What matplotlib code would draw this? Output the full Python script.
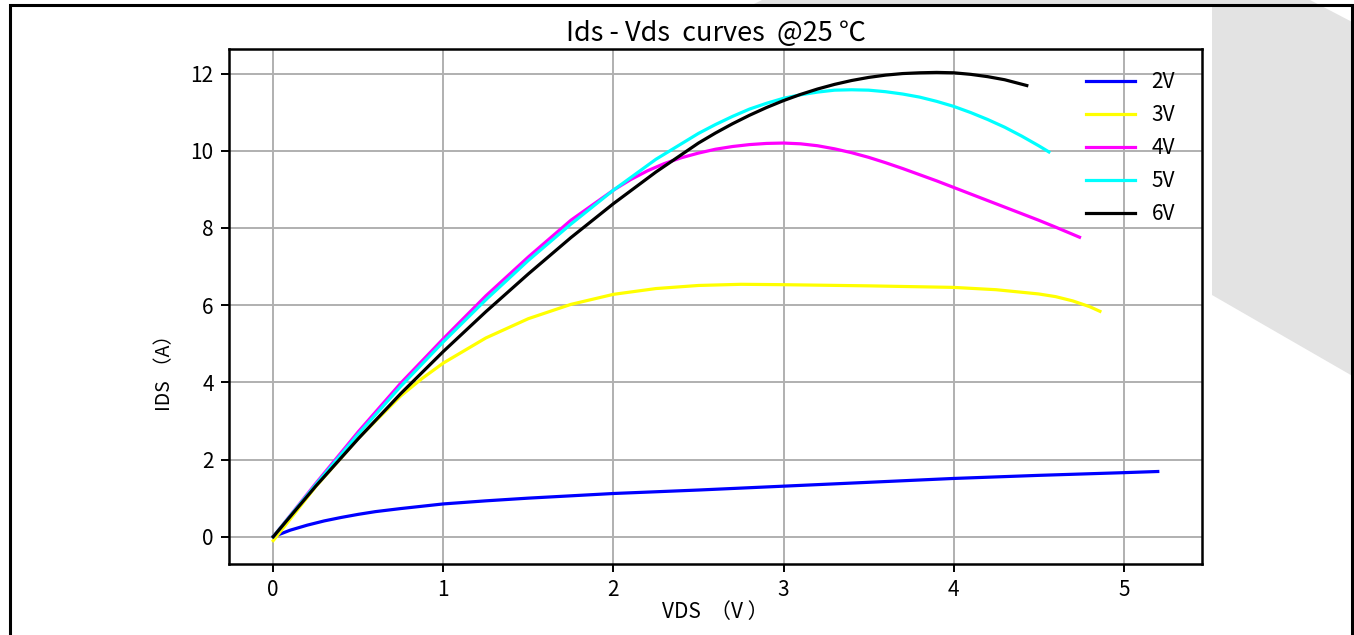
import matplotlib
matplotlib.use('Agg')
import matplotlib.pyplot as plt
from matplotlib.patches import Polygon, Rectangle

plt.rcParams['font.family'] = ['Noto Sans CJK SC', 'DejaVu Sans']
plt.rcParams['axes.unicode_minus'] = False

# ─── Data ───
VGS_LABELS = ['2V', '3V', '4V', '5V', '6V']
COLORS = ['blue', 'yellow', 'magenta', 'cyan', 'black']

vds_2v = [0, 0.1, 0.2, 0.3, 0.4, 0.5, 0.6, 0.75, 1.0, 1.25, 1.5, 2.0, 2.5, 3.0, 3.5, 4.0, 4.5, 5.0, 5.2]
ids_2v = [0, 0.17, 0.30, 0.41, 0.50, 0.58, 0.65, 0.73, 0.85, 0.93, 1.0, 1.12, 1.21, 1.31, 1.41, 1.51, 1.59, 1.66, 1.69]

vds_3v = [0, 0.25, 0.5, 0.75, 0.875, 1.0, 1.25, 1.5, 1.75, 2.0, 2.25, 2.5, 2.75, 3.0, 3.5, 4.0,
          4.25, 4.5, 4.6, 4.7, 4.8, 4.86]
ids_3v = [-0.1, 1.3, 2.55, 3.65, 4.1, 4.5, 5.15, 5.65, 6.02, 6.28, 6.43, 6.51, 6.54, 6.53, 6.5, 6.46,
          6.40, 6.29, 6.22, 6.11, 5.96, 5.84]

vds_4v = [0, 0.25, 0.5, 0.75, 1.0, 1.25, 1.5, 1.75, 2.0, 2.1, 2.2, 2.3, 2.4, 2.5, 2.6, 2.7, 2.8, 2.9,
          3.0, 3.1, 3.2, 3.3, 3.4, 3.5, 3.6, 3.7, 3.8, 3.9, 4.0, 4.1, 4.2, 4.3, 4.4, 4.5, 4.6, 4.74]
ids_4v = [0, 1.38, 2.72, 3.98, 5.13, 6.24, 7.25, 8.2, 8.98, 9.25, 9.48, 9.67, 9.82, 9.94, 10.04, 10.11,
          10.16, 10.19, 10.2, 10.18, 10.13, 10.05, 9.95, 9.83, 9.69, 9.54, 9.38, 9.22, 9.05, 8.88,
          8.71, 8.54, 8.37, 8.2, 8.02, 7.76]

vds_5v = [0, 0.25, 0.5, 0.75, 1.0, 1.25, 1.5, 1.75, 2.0, 2.25, 2.5, 2.6, 2.7, 2.8, 2.9, 3.0, 3.1,
          3.2, 3.3, 3.4, 3.5, 3.6, 3.7, 3.8, 3.9, 4.0, 4.1, 4.2, 4.3, 4.4, 4.5, 4.56]
ids_5v = [0, 1.35, 2.66, 3.9, 5.05, 6.14, 7.16, 8.1, 8.98, 9.78, 10.45, 10.68, 10.89, 11.08, 11.23,
          11.36, 11.45, 11.52, 11.57, 11.58, 11.57, 11.53, 11.47, 11.39, 11.28, 11.15, 10.99, 10.81,
          10.61, 10.38, 10.13, 9.97]

vds_6v = [0, 0.25, 0.5, 0.75, 1.0, 1.25, 1.5, 1.75, 2.0, 2.25, 2.5, 2.6, 2.7, 2.8, 2.9, 3.0, 3.1,
          3.2, 3.3, 3.4, 3.5, 3.6, 3.7, 3.8, 3.9, 4.0, 4.1, 4.2, 4.3, 4.43]
ids_6v = [0, 1.31, 2.54, 3.71, 4.80, 5.83, 6.81, 7.75, 8.63, 9.45, 10.2, 10.46, 10.70, 10.92, 11.12,
          11.30, 11.46, 11.60, 11.72, 11.82, 11.90, 11.96, 12.0, 12.02, 12.03, 12.02, 11.98, 11.92,
          11.84, 11.69]

CURVES = [(vds_2v, ids_2v), (vds_3v, ids_3v), (vds_4v, ids_4v), (vds_5v, ids_5v), (vds_6v, ids_6v)]

W, H = 1354, 635
fig = plt.figure(figsize=(W / 100, H / 100), dpi=100)
fig.patch.set_facecolor('white')


def px(x, y):
    """pixel coords (top-left origin) -> figure fraction"""
    return (x / W, 1 - y / H)


# grey backdrop shape behind the right side
grey = Polygon([px(752, 5), px(762, 0), px(1310, 0), px(1356, 24),
                px(1356, 378), px(1212, 295), px(1212, 5)],
               closed=True, transform=fig.transFigure, facecolor='#e3e3e3',
               edgecolor='none', zorder=0)
fig.patches.append(grey)

# black frame
x0, y0 = px(10, 660)
x1, y1 = px(1352, 5)
frame = Rectangle((x0, y0), x1 - x0, y1 - y0, transform=fig.transFigure,
                  facecolor='none', edgecolor='black', linewidth=2.2,
                  zorder=1, clip_on=False)
fig.patches.append(frame)

# axes
l, t = px(229, 49)
r, b = px(1202, 564)
ax = fig.add_axes([l, b, r - l, t - b])

for (x, y), c, lab in zip(CURVES, COLORS, VGS_LABELS):
    ax.plot(x, y, color=c, linewidth=2.3, label=lab)

ax.set_xticks([0, 1, 2, 3, 4, 5])
ax.set_yticks([0, 2, 4, 6, 8, 10, 12])
ax.grid(True, color='#b0b0b0', linewidth=1.4)
ax.set_axisbelow(True)
for sp in ax.spines.values():
    sp.set_linewidth(1.8)
ax.tick_params(labelsize=15, length=6, width=1.4, pad=5)

ax.set_title('Ids - Vds  curves  @25 ℃', fontsize=19.5, pad=6)
ax.set_xlabel('VDS  （V ）', fontsize=15)
ax.set_ylabel('IDS （A）', fontsize=14)
ax.xaxis.set_label_coords(0.5, -0.072)
ax.yaxis.set_label_coords(-0.055, 0.38)

ax.legend(loc='upper right', bbox_to_anchor=(1 - 5 / 973, 1.0), frameon=False,
          fontsize=15, handlelength=2.35, labelspacing=0.53, borderaxespad=0.65)

fig.savefig('out.png', dpi=100, facecolor='white')
